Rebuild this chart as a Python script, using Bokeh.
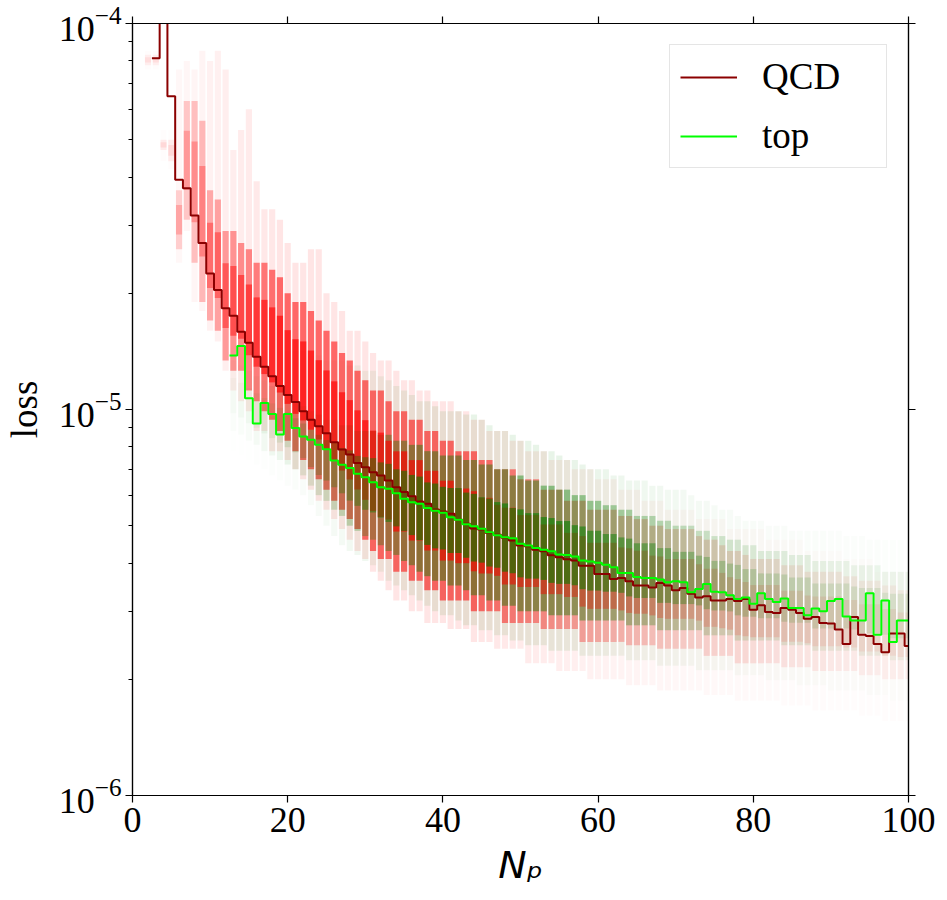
import numpy as np
from bokeh.plotting import figure
from bokeh.models import (Range1d, FixedTicker, LogAxis, LinearAxis, Legend, LegendItem,
                          CustomJSTickFormatter, LogTickFormatter)
from bokeh.embed import file_html
from bokeh.resources import INLINE

# ---------------- data ----------------
x_ticks = [0, 20, 40, 60, 80, 100]
y_major = [1e-6, 1e-5, 1e-4]
y_minor = [2e-6, 3e-6, 4e-6, 5e-6, 6e-6, 7e-6, 8e-6, 9e-6,
           2e-5, 3e-5, 4e-5, 5e-5, 6e-5, 7e-5, 8e-5, 9e-5]

# mean loss per number of particles (step lines)
qcd_n = list(range(3, 101))
qcd_loss = [
    8.13e-5, 1.3e-4, 6.48e-5, 3.94e-5, 3.74e-5, 3.18e-5, 2.70e-5, 2.25e-5, 2.04e-5, 1.83e-5,
    1.75e-5, 1.59e-5, 1.49e-5, 1.37e-5, 1.29e-5, 1.22e-5, 1.15e-5, 1.09e-5, 1.045e-5, 9.90e-6,
    9.40e-6, 9.05e-6, 8.68e-6, 8.23e-6, 7.88e-6, 7.65e-6, 7.27e-6, 7.09e-6, 6.88e-6, 6.75e-6,
    6.55e-6, 6.29e-6, 6.11e-6, 5.96e-6, 5.78e-6, 5.70e-6, 5.51e-6, 5.44e-6, 5.37e-6, 5.18e-6,
    5.06e-6, 4.92e-6, 4.89e-6, 4.79e-6, 4.74e-6, 4.65e-6, 4.58e-6, 4.44e-6, 4.42e-6, 4.33e-6,
    4.29e-6, 4.19e-6, 4.14e-6, 4.09e-6, 4.06e-6, 3.94e-6, 3.94e-6, 3.75e-6, 3.75e-6, 3.64e-6,
    3.66e-6, 3.59e-6, 3.50e-6, 3.50e-6, 3.46e-6, 3.55e-6, 3.50e-6, 3.40e-6, 3.45e-6, 3.33e-6,
    3.26e-6, 3.28e-6, 3.20e-6, 3.20e-6, 3.23e-6, 3.19e-6, 3.23e-6, 3.03e-6, 3.11e-6, 2.99e-6,
    2.97e-6, 3.06e-6, 3.03e-6, 2.97e-6, 2.87e-6, 2.90e-6, 2.80e-6, 2.79e-6, 2.69e-6, 2.47e-6,
    2.90e-6, 2.61e-6, 2.59e-6, 2.47e-6, 2.35e-6, 2.63e-6, 2.63e-6, 2.44e-6]

top_n = list(range(13, 101))
top_loss = [
    1.38e-5, 1.46e-5, 1.07e-5, 9.20e-6, 1.04e-5, 9.73e-6, 8.61e-6, 9.73e-6, 8.95e-6, 8.51e-6,
    8.35e-6, 8.10e-6, 7.89e-6, 7.38e-6, 7.19e-6, 7.05e-6, 6.82e-6, 6.68e-6, 6.48e-6, 6.29e-6,
    6.23e-6, 6.07e-6, 5.87e-6, 5.75e-6, 5.70e-6, 5.56e-6, 5.47e-6, 5.40e-6, 5.26e-6, 5.18e-6,
    5.04e-6, 4.98e-6, 4.91e-6, 4.81e-6, 4.72e-6, 4.67e-6, 4.64e-6, 4.49e-6, 4.44e-6, 4.38e-6,
    4.33e-6, 4.29e-6, 4.21e-6, 4.20e-6, 4.16e-6, 4.06e-6, 4.04e-6, 4.01e-6, 3.96e-6, 3.90e-6,
    3.77e-6, 3.77e-6, 3.68e-6, 3.66e-6, 3.66e-6, 3.63e-6, 3.57e-6, 3.59e-6, 3.57e-6, 3.36e-6,
    3.43e-6, 3.53e-6, 3.37e-6, 3.36e-6, 3.30e-6, 3.23e-6, 3.26e-6, 3.14e-6, 3.34e-6, 3.23e-6,
    3.17e-6, 3.24e-6, 3.06e-6, 3.06e-6, 2.93e-6, 3.05e-6, 3.00e-6, 3.19e-6, 3.23e-6, 2.91e-6,
    2.84e-6, 2.84e-6, 3.34e-6, 2.61e-6, 3.20e-6, 2.50e-6, 2.84e-6, 2.84e-6]

# per-jet scatter cloud, summarised per N: outer (sparse) and core (dense) extents
cloud_qcd_n = list(range(2, 101))
qcd_outer_hi = [
    8.5e-5, 8.5e-5, 5.3e-5, 5.3e-5, 7.6e-5, 8.0e-5, 7.6e-5, 8.5e-5, 8.0e-5, 8.5e-5,
    7.6e-5, 4.7e-5, 5.3e-5, 6.0e-5, 3.9e-5, 3.3e-5, 3.3e-5, 3.1e-5, 2.7e-5, 2.4e-5,
    2.4e-5, 2.6e-5, 2.6e-5, 2.0e-5, 1.9e-5, 1.8e-5, 1.6e-5, 1.6e-5, 1.5e-5, 1.4e-5,
    1.34e-5, 1.34e-5, 1.26e-5, 1.19e-5, 1.19e-5, 1.12e-5, 1.12e-5, 1.05e-5, 1.05e-5, 1.05e-5,
    9.9e-6, 9.9e-6, 9.4e-6, 9.4e-6, 8.8e-6, 8.8e-6, 8.8e-6, 8.3e-6, 8.3e-6, 7.8e-6,
    7.8e-6, 7.8e-6, 7.4e-6, 7.4e-6, 7.4e-6, 7.0e-6, 7.0e-6, 7.0e-6, 6.6e-6, 6.6e-6,
    6.6e-6, 6.2e-6, 6.2e-6, 6.2e-6, 5.8e-6, 5.8e-6, 5.8e-6, 5.5e-6, 5.5e-6, 5.5e-6,
    5.5e-6, 5.2e-6, 5.2e-6, 5.2e-6, 5.2e-6, 4.9e-6, 4.9e-6, 4.9e-6, 4.9e-6, 4.9e-6,
    4.6e-6, 4.6e-6, 4.6e-6, 4.6e-6, 4.6e-6, 4.3e-6, 4.3e-6, 4.3e-6, 4.3e-6, 4.3e-6,
    4.1e-6, 4.1e-6, 4.1e-6, 4.1e-6, 3.8e-6, 3.8e-6, 3.8e-6, 3.8e-6, 3.8e-6]
qcd_core_hi = [
    8.3e-5, 8.3e-5, 5.0e-5, 5.0e-5, 3.7e-5, 6.3e-5, 6.3e-5, 5.6e-5, 3.7e-5, 3.5e-5,
    2.9e-5, 2.9e-5, 2.7e-5, 2.6e-5, 2.4e-5, 2.4e-5, 2.3e-5, 2.2e-5, 2.0e-5, 1.9e-5,
    1.9e-5, 1.8e-5, 1.7e-5, 1.6e-5, 1.5e-5, 1.4e-5, 1.34e-5, 1.26e-5, 1.19e-5, 1.12e-5,
    1.12e-5, 1.05e-5, 9.9e-6, 9.9e-6, 9.4e-6, 9.4e-6, 8.8e-6, 8.8e-6, 8.3e-6, 8.3e-6,
    7.8e-6, 7.8e-6, 7.8e-6, 7.4e-6, 7.4e-6, 7.0e-6, 7.0e-6, 7.0e-6, 6.6e-6, 6.6e-6,
    6.6e-6, 6.2e-6, 6.2e-6, 6.2e-6, 5.8e-6, 5.8e-6, 5.8e-6, 5.5e-6, 5.5e-6, 5.5e-6,
    5.5e-6, 5.3e-6, 5.3e-6, 5.2e-6, 5.2e-6, 5.0e-6, 5.0e-6, 4.9e-6, 4.9e-6, 4.9e-6,
    4.9e-6, 4.7e-6, 4.6e-6, 4.6e-6, 4.45e-6, 4.3e-6, 4.3e-6, 4.2e-6, 4.1e-6, 4.1e-6,
    4.1e-6, 4.1e-6, 3.95e-6, 3.95e-6, 3.95e-6, 3.8e-6, 3.8e-6, 3.8e-6, 3.8e-6, 3.8e-6,
    3.7e-6, 3.7e-6, 3.6e-6, 3.6e-6, 3.6e-6, 3.5e-6, 3.5e-6, 3.4e-6, 3.4e-6]
qcd_core_lo = [
    7.8e-5, 7.8e-5, 4.7e-5, 4.4e-5, 2.6e-5, 3.1e-5, 2.4e-5, 1.9e-5, 1.7e-5, 1.6e-5,
    1.34e-5, 1.26e-5, 1.26e-5, 1.12e-5, 1.05e-5, 9.9e-6, 9.4e-6, 8.8e-6, 8.3e-6, 7.8e-6,
    7.4e-6, 7.0e-6, 6.6e-6, 6.2e-6, 5.8e-6, 5.5e-6, 5.2e-6, 4.9e-6, 4.6e-6, 4.3e-6,
    4.1e-6, 4.1e-6, 3.8e-6, 3.8e-6, 3.6e-6, 3.6e-6, 3.4e-6, 3.4e-6, 3.2e-6, 3.2e-6,
    3.2e-6, 3.2e-6, 3.0e-6, 3.0e-6, 3.0e-6, 3.0e-6, 2.8e-6, 2.8e-6, 2.8e-6, 2.8e-6,
    2.8e-6, 2.7e-6, 2.7e-6, 2.7e-6, 2.7e-6, 2.7e-6, 2.5e-6, 2.5e-6, 2.5e-6, 2.5e-6,
    2.5e-6, 2.5e-6, 2.45e-6, 2.45e-6, 2.45e-6, 2.45e-6, 2.4e-6, 2.4e-6, 2.4e-6, 2.4e-6,
    2.4e-6, 2.4e-6, 2.3e-6, 2.3e-6, 2.3e-6, 2.3e-6, 2.2e-6, 2.2e-6, 2.2e-6, 2.2e-6,
    2.2e-6, 2.2e-6, 2.15e-6, 2.15e-6, 2.15e-6, 2.15e-6, 2.1e-6, 2.1e-6, 2.1e-6, 2.1e-6,
    2.1e-6, 2.1e-6, 2.05e-6, 2.05e-6, 2.05e-6, 2.0e-6, 2.0e-6, 2.0e-6, 2.0e-6]
qcd_outer_lo = [
    7.6e-5, 7.6e-5, 4.4e-5, 4.2e-5, 2.4e-5, 2.9e-5, 1.9e-5, 1.8e-5, 1.6e-5, 1.5e-5,
    1.26e-5, 1.12e-5, 1.05e-5, 9.9e-6, 8.8e-6, 8.8e-6, 7.8e-6, 7.8e-6, 7.4e-6, 7.0e-6,
    6.6e-6, 6.2e-6, 5.8e-6, 5.5e-6, 5.2e-6, 4.9e-6, 4.6e-6, 4.3e-6, 4.1e-6, 3.8e-6,
    3.6e-6, 3.4e-6, 3.2e-6, 3.2e-6, 3.0e-6, 3.0e-6, 2.8e-6, 2.8e-6, 2.8e-6, 2.7e-6,
    2.7e-6, 2.7e-6, 2.5e-6, 2.5e-6, 2.5e-6, 2.4e-6, 2.4e-6, 2.4e-6, 2.4e-6, 2.2e-6,
    2.2e-6, 2.2e-6, 2.2e-6, 2.1e-6, 2.1e-6, 2.1e-6, 2.1e-6, 2.0e-6, 2.0e-6, 2.0e-6,
    2.0e-6, 2.0e-6, 1.93e-6, 1.93e-6, 1.93e-6, 1.93e-6, 1.87e-6, 1.87e-6, 1.87e-6, 1.87e-6,
    1.87e-6, 1.87e-6, 1.82e-6, 1.82e-6, 1.82e-6, 1.82e-6, 1.76e-6, 1.76e-6, 1.76e-6, 1.76e-6,
    1.76e-6, 1.76e-6, 1.71e-6, 1.71e-6, 1.71e-6, 1.71e-6, 1.66e-6, 1.66e-6, 1.66e-6, 1.66e-6,
    1.66e-6, 1.66e-6, 1.61e-6, 1.61e-6, 1.61e-6, 1.56e-6, 1.56e-6, 1.56e-6, 1.56e-6]
qcd_density = [
    0.1, 0.1, 0.12, 0.12, 0.3, 0.35, 0.4, 0.45, 0.55, 0.6,
    0.65, 0.7, 0.75, 0.8, 0.85, 0.9, 0.95, 1, 1, 1,
    1, 1, 1, 1, 1, 1, 1, 1, 1, 1,
    1, 1, 1, 1, 1, 1, 1, 1, 1, 1,
    1, 1, 1, 0.97, 0.94, 0.91, 0.88, 0.85, 0.82, 0.79,
    0.76, 0.73, 0.7, 0.67, 0.64, 0.61, 0.58, 0.55, 0.52, 0.5,
    0.48, 0.46, 0.44, 0.42, 0.4, 0.38, 0.36, 0.34, 0.32, 0.3,
    0.29, 0.28, 0.27, 0.26, 0.25, 0.24, 0.23, 0.22, 0.21, 0.2,
    0.19, 0.18, 0.17, 0.16, 0.15, 0.15, 0.14, 0.14, 0.13, 0.13,
    0.12, 0.12, 0.11, 0.11, 0.1, 0.1, 0.1, 0.1, 0.1]

cloud_top_n = list(range(13, 101))
top_outer_hi = [
    1.51e-5, 1.51e-5, 1.51e-5, 1.47e-5, 1.47e-5, 1.47e-5, 1.42e-5, 1.42e-5, 1.42e-5, 1.42e-5,
    1.38e-5, 1.38e-5, 1.34e-5, 1.34e-5, 1.34e-5, 1.30e-5, 1.30e-5, 1.26e-5, 1.26e-5, 1.22e-5,
    1.19e-5, 1.15e-5, 1.12e-5, 1.09e-5, 1.05e-5, 1.05e-5, 1.02e-5, 9.9e-6, 9.9e-6, 9.9e-6,
    9.7e-6, 9.7e-6, 9.4e-6, 9.1e-6, 8.8e-6, 8.8e-6, 8.6e-6, 8.3e-6, 8.3e-6, 8.1e-6,
    7.8e-6, 7.8e-6, 7.6e-6, 7.4e-6, 7.4e-6, 7.2e-6, 7.0e-6, 7.0e-6, 7.0e-6, 6.75e-6,
    6.75e-6, 6.55e-6, 6.55e-6, 6.55e-6, 6.35e-6, 6.35e-6, 6.2e-6, 6.2e-6, 6.2e-6, 6.0e-6,
    5.8e-6, 5.8e-6, 5.65e-6, 5.5e-6, 5.5e-6, 5.3e-6, 5.15e-6, 5.15e-6, 5.15e-6, 5.0e-6,
    5.0e-6, 5.0e-6, 4.85e-6, 4.85e-6, 4.85e-6, 4.85e-6, 4.85e-6, 4.85e-6, 4.85e-6, 4.7e-6,
    4.7e-6, 4.7e-6, 4.6e-6, 4.6e-6, 4.6e-6, 4.6e-6, 4.6e-6, 4.6e-6]
top_core_hi = [
    1.34e-5, 1.30e-5, 1.26e-5, 1.22e-5, 1.19e-5, 1.15e-5, 1.12e-5, 1.09e-5, 1.05e-5, 1.02e-5,
    9.9e-6, 9.7e-6, 9.4e-6, 9.4e-6, 9.1e-6, 9.1e-6, 8.8e-6, 8.8e-6, 8.8e-6, 8.6e-6,
    8.6e-6, 8.3e-6, 8.3e-6, 8.1e-6, 8.1e-6, 7.8e-6, 7.8e-6, 7.6e-6, 7.6e-6, 7.6e-6,
    7.4e-6, 7.4e-6, 7.2e-6, 7.2e-6, 7.0e-6, 7.0e-6, 6.75e-6, 6.75e-6, 6.55e-6, 6.55e-6,
    6.35e-6, 6.35e-6, 6.2e-6, 6.2e-6, 6.0e-6, 6.0e-6, 5.8e-6, 5.8e-6, 5.65e-6, 5.65e-6,
    5.5e-6, 5.5e-6, 5.3e-6, 5.3e-6, 5.3e-6, 5.15e-6, 5.15e-6, 5.0e-6, 5.0e-6, 5.0e-6,
    4.85e-6, 4.85e-6, 4.7e-6, 4.7e-6, 4.6e-6, 4.6e-6, 4.45e-6, 4.45e-6, 4.3e-6, 4.3e-6,
    4.3e-6, 4.3e-6, 4.2e-6, 4.2e-6, 4.2e-6, 4.05e-6, 4.05e-6, 4.05e-6, 4.05e-6, 4.05e-6,
    3.95e-6, 3.95e-6, 3.95e-6, 3.95e-6, 3.8e-6, 3.8e-6, 3.8e-6, 3.8e-6]
top_core_lo = [
    8.8e-6, 8.6e-6, 8.3e-6, 8.1e-6, 7.8e-6, 7.6e-6, 7.4e-6, 7.2e-6, 7.0e-6, 6.75e-6,
    6.35e-6, 6.0e-6, 5.8e-6, 5.5e-6, 5.3e-6, 5.0e-6, 4.85e-6, 4.7e-6, 4.6e-6, 4.45e-6,
    4.3e-6, 4.2e-6, 4.05e-6, 3.95e-6, 3.8e-6, 3.7e-6, 3.6e-6, 3.6e-6, 3.5e-6, 3.5e-6,
    3.4e-6, 3.3e-6, 3.3e-6, 3.2e-6, 3.2e-6, 3.1e-6, 3.1e-6, 3.0e-6, 3.0e-6, 3.0e-6,
    3.0e-6, 2.93e-6, 2.93e-6, 2.93e-6, 2.93e-6, 2.84e-6, 2.84e-6, 2.84e-6, 2.84e-6, 2.84e-6,
    2.84e-6, 2.76e-6, 2.76e-6, 2.76e-6, 2.76e-6, 2.68e-6, 2.68e-6, 2.68e-6, 2.68e-6, 2.68e-6,
    2.68e-6, 2.6e-6, 2.6e-6, 2.6e-6, 2.6e-6, 2.52e-6, 2.52e-6, 2.52e-6, 2.52e-6, 2.52e-6,
    2.52e-6, 2.45e-6, 2.45e-6, 2.45e-6, 2.45e-6, 2.37e-6, 2.37e-6, 2.37e-6, 2.37e-6, 2.37e-6,
    2.37e-6, 2.3e-6, 2.3e-6, 2.3e-6, 2.3e-6, 2.24e-6, 2.24e-6, 2.24e-6]
top_outer_lo = [
    7.8e-6, 7.6e-6, 7.4e-6, 7.2e-6, 7.0e-6, 6.75e-6, 6.55e-6, 6.35e-6, 6.2e-6, 6.0e-6,
    5.65e-6, 5.3e-6, 5.0e-6, 4.7e-6, 4.45e-6, 4.3e-6, 4.2e-6, 4.05e-6, 3.95e-6, 3.8e-6,
    3.6e-6, 3.5e-6, 3.4e-6, 3.3e-6, 3.2e-6, 3.1e-6, 3.0e-6, 2.93e-6, 2.93e-6, 2.84e-6,
    2.76e-6, 2.76e-6, 2.68e-6, 2.68e-6, 2.6e-6, 2.6e-6, 2.52e-6, 2.52e-6, 2.45e-6, 2.45e-6,
    2.45e-6, 2.37e-6, 2.37e-6, 2.37e-6, 2.37e-6, 2.3e-6, 2.3e-6, 2.3e-6, 2.3e-6, 2.3e-6,
    2.3e-6, 2.24e-6, 2.24e-6, 2.24e-6, 2.24e-6, 2.17e-6, 2.17e-6, 2.17e-6, 2.17e-6, 2.17e-6,
    2.11e-6, 2.11e-6, 2.11e-6, 2.11e-6, 2.11e-6, 2.05e-6, 2.05e-6, 2.05e-6, 2.05e-6, 1.99e-6,
    1.99e-6, 1.99e-6, 1.99e-6, 1.93e-6, 1.93e-6, 1.93e-6, 1.93e-6, 1.87e-6, 1.87e-6, 1.87e-6,
    1.87e-6, 1.87e-6, 1.82e-6, 1.82e-6, 1.82e-6, 1.76e-6, 1.76e-6, 1.76e-6]
top_density = [
    0.04, 0.05, 0.06, 0.08, 0.1, 0.12, 0.15, 0.18, 0.22, 0.26,
    0.3, 0.35, 0.4, 0.45, 0.5, 0.55, 0.6, 0.65, 0.7, 0.75,
    0.8, 0.85, 0.9, 0.95, 1, 1, 1, 1, 1, 1,
    1, 1, 1, 1, 1, 1, 1, 1, 1, 1,
    1, 1, 1, 0.97, 0.94, 0.91, 0.88, 0.85, 0.82, 0.79,
    0.76, 0.73, 0.7, 0.67, 0.64, 0.61, 0.58, 0.55, 0.52, 0.49,
    0.46, 0.43, 0.4, 0.38, 0.36, 0.34, 0.32, 0.3, 0.28, 0.27,
    0.26, 0.25, 0.24, 0.23, 0.22, 0.21, 0.2, 0.19, 0.18, 0.18,
    0.17, 0.17, 0.16, 0.16, 0.15, 0.15, 0.14, 0.14]

# ---------------- figure ----------------
SERIF = "Liberation Serif"
QCD_RED = "#ff0000"
TOP_GREEN = "#008000"

p = figure(frame_width=776, frame_height=772,
           x_range=Range1d(0, 100), y_range=Range1d(1e-6, 1e-4),
           y_axis_type="log", output_backend="svg", toolbar_location=None,
           min_border_left=123, min_border_right=30, min_border_top=23, min_border_bottom=89,
           background_fill_color="white", border_fill_color="white")
p.grid.visible = False
p.outline_line_color = "black"
p.outline_line_width = 1.2


def band(ns, lo, hi, dens, color, alpha):
    p.vbar(x=ns, bottom=lo, top=hi, width=0.8, fill_color=color,
           fill_alpha=[alpha * d for d in dens], line_color=None)


def inner(lo, hi):
    # middle half (in log space) of a core band: where the markers pile up most
    llo, lhi = np.log10(np.array(lo)), np.log10(np.array(hi))
    return (list(10 ** (llo + 0.25 * (lhi - llo))), list(10 ** (lhi - 0.25 * (lhi - llo))))


qi_lo, qi_hi = inner(qcd_core_lo, qcd_core_hi)
ti_lo, ti_hi = inner(top_core_lo, top_core_hi)

# interleave the layers so that overlapping QCD / top markers mix to brown
band(cloud_qcd_n, qcd_outer_lo, qcd_outer_hi, qcd_density, QCD_RED, 0.10)
band(cloud_top_n, top_outer_lo, top_outer_hi, top_density, TOP_GREEN, 0.09)
band(cloud_qcd_n, qcd_core_lo, qcd_core_hi, qcd_density, QCD_RED, 0.55)
band(cloud_top_n, top_core_lo, top_core_hi, top_density, TOP_GREEN, 0.42)
band(cloud_qcd_n, qi_lo, qi_hi, qcd_density, QCD_RED, 0.65)
band(cloud_top_n, ti_lo, ti_hi, top_density, TOP_GREEN, 0.6)

qcd_edges = [n - 0.5 for n in qcd_n] + [qcd_n[-1] + 0.5]
top_edges = [n - 0.5 for n in top_n] + [top_n[-1] + 0.5]
r_qcd = p.step(qcd_edges, qcd_loss + [qcd_loss[-1]], mode="after",
               line_color="#8b0000", line_width=2)
r_top = p.step(top_edges, top_loss + [top_loss[-1]], mode="after",
               line_color="#00ff00", line_width=2)

# axes
xa = p.xaxis[0]
xa.ticker = FixedTicker(ticks=x_ticks, minor_ticks=[])
ya = p.yaxis[0]
ya.ticker = FixedTicker(ticks=y_major, minor_ticks=y_minor)
ya.formatter = LogTickFormatter()

top_ax = LinearAxis(ticker=FixedTicker(ticks=x_ticks, minor_ticks=[]),
                    formatter=CustomJSTickFormatter(code="return ''"))
right_ax = LogAxis(ticker=FixedTicker(ticks=y_major, minor_ticks=[]),
                   formatter=CustomJSTickFormatter(code="return ''"))
p.add_layout(top_ax, "above")
p.add_layout(right_ax, "right")

for ax in (xa, ya, top_ax, right_ax):
    ax.axis_line_color = "black"
    ax.axis_line_width = 1.2
    ax.major_tick_line_color = "black"
    ax.major_tick_line_width = 1.2
    ax.minor_tick_line_color = "black"
    ax.major_tick_in = 0
    ax.major_tick_out = 7
    ax.minor_tick_in = 0
    ax.minor_tick_out = 4
    ax.major_label_text_font = SERIF
    ax.major_label_text_font_size = "36px"
    ax.major_label_text_color = "black"

xa.major_label_standoff = 5
xa.axis_label = "N\u209a"
xa.axis_label_text_font = "DejaVu Sans"
xa.axis_label_text_font_style = "italic"
xa.axis_label_text_font_size = "38px"
xa.axis_label_text_color = "black"
xa.axis_label_standoff = 8

ya.major_label_standoff = 4
ya.axis_label = "loss"
ya.axis_label_text_font = SERIF
ya.axis_label_text_font_size = "37px"
ya.axis_label_text_font_style = "normal"
ya.axis_label_text_color = "black"
ya.axis_label_standoff = 11

legend = Legend(items=[LegendItem(label="QCD", renderers=[r_qcd]),
                       LegendItem(label="top", renderers=[r_top])],
                location="top_right", margin=21, padding=10, spacing=16,
                glyph_width=57, glyph_height=40, label_height=40, label_width=114,
                label_standoff=25,
                label_text_font=SERIF, label_text_font_size="37px",
                label_text_color="black",
                border_line_color="#cccccc", border_line_width=1,
                background_fill_color="white", background_fill_alpha=0.8)
p.add_layout(legend)

open("out.html", "w").write(file_html(p, INLINE))
